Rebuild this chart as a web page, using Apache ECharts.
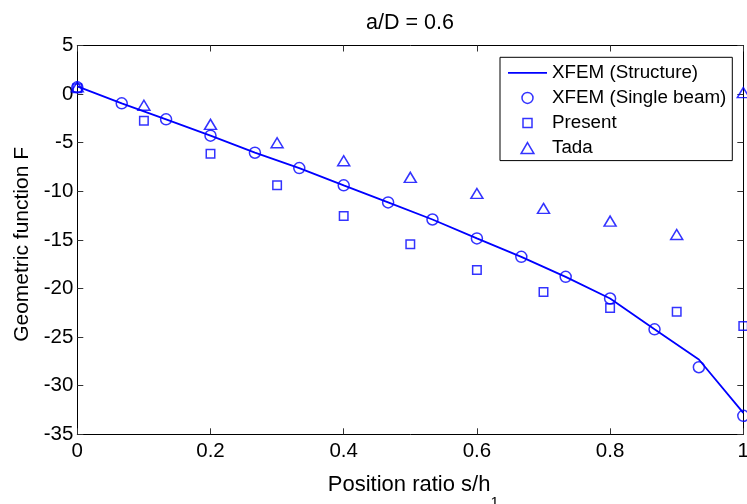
<!DOCTYPE html>
<html><head><meta charset="utf-8">
<script src="https://cdn.jsdelivr.net/npm/echarts@6/dist/echarts.min.js"></script>
<style>html,body{margin:0;padding:0;background:#fff}#c{width:747px;height:504px}</style>
</head><body><div id="c"></div>
<script>
// Position ratio s/h1 for the XFEM computations
const xFine = [0, 0.0667, 0.1333, 0.2, 0.2667, 0.3333, 0.4, 0.4667, 0.5333, 0.6, 0.6667, 0.7333, 0.8, 0.8667, 0.9333, 1];
const structureF = [0.8, -0.95, -2.6, -4.28, -6.03, -7.61, -9.39, -11.14, -12.9, -14.85, -16.74, -18.8, -21.03, -24.2, -27.3, -32.8];
const singleBeamF = [0.7, -0.95, -2.6, -4.28, -6.03, -7.61, -9.39, -11.14, -12.9, -14.85, -16.74, -18.8, -21.03, -24.2, -28.1, -33.1];
// Position ratio for Present / Tada
const xCoarse = [0, 0.1, 0.2, 0.3, 0.4, 0.5, 0.6, 0.7, 0.8, 0.9, 1];
const presentF = [0.6, -2.74, -6.14, -9.39, -12.55, -15.44, -18.1, -20.35, -22.0, -22.4, -23.85];
const tadaF = [0.75, -1.15, -3.11, -5.0, -6.86, -8.57, -10.22, -11.76, -13.07, -14.44, 0.15];
const seriesNames = ['XFEM (Structure)', 'XFEM (Single beam)', 'Present', 'Tada'];
const titleText = 'a/D = 0.6';
const xName = 'Position ratio s/h{sub|1}';
const yName = 'Geometric function F';

const FONT = '"Liberation Sans", Arial, sans-serif';
const BLUE = '#0000ff';
const pairs = (xs, ys) => xs.map((x, i) => [x, ys[i]]);

const chart = echarts.init(document.getElementById('c'), null, {renderer: 'canvas'});
const axisCommon = {
  axisLine: {onZero: false, lineStyle: {color: '#000', width: 1}},
  axisTick: {inside: true, length: 6, lineStyle: {color: '#333', width: 1}},
  splitLine: {show: false}
};
chart.setOption({
  animation: false,
  backgroundColor: '#fff',
  title: {
    text: titleText, left: 366, top: 12, padding: 0,
    textStyle: {fontFamily: FONT, fontSize: 21.5, fontWeight: 'normal', color: '#000'}
  },
  grid: {left: 77.3, right: 3.7, top: 45.5, bottom: 69.7, outerBoundsMode: 'none', containLabel: false},
  legend: {
    orient: 'vertical', left: 500, top: 57.3, padding: [6, 6, 3, 8],
    itemWidth: 39, itemHeight: 11, itemGap: 6.1,
    symbolKeepAspect: true,
    borderColor: '#000', borderWidth: 1, backgroundColor: '#fff',
    selectedMode: false, z: 10,
    itemStyle: {borderWidth: 1.5},
    textStyle: {fontFamily: FONT, fontSize: 18.8, color: '#000'},
    data: [
      {name: seriesNames[0], icon: 'path://M0,0L39,0L39,1.8L0,1.8Z', symbolKeepAspect: true,
       itemStyle: {color: BLUE, borderWidth: 0}},
      {name: seriesNames[1], symbolKeepAspect: true},
      {name: seriesNames[2], icon: 'path://M-1,-1M0,0L9,0L9,9L0,9ZM10,10', symbolKeepAspect: true},
      {name: seriesNames[3], icon: 'path://M7,0L14,12L0,12Z', symbolKeepAspect: true}
    ]
  },
  xAxis: [
    Object.assign({
      type: 'value', min: 0, max: 1, interval: 0.2, position: 'bottom',
      name: xName, nameLocation: 'middle', nameGap: 25.5,
      nameTextStyle: {fontFamily: FONT, fontSize: 22, color: '#000', padding: [0, 0, 0, 6],
        rich: {sub: {fontFamily: FONT, fontSize: 15, color: '#000', padding: [36, 0, 0, 0]}}},
      axisLabel: {fontFamily: FONT, fontSize: 20.5, color: '#000', margin: 7}
    }, axisCommon),
    Object.assign({
      type: 'value', min: 0, max: 1, interval: 0.2, position: 'top',
      axisLabel: {show: false}
    }, axisCommon)
  ],
  yAxis: [
    Object.assign({
      type: 'value', min: -35, max: 5, interval: 5, position: 'left',
      name: yName, nameLocation: 'middle', nameGap: 40,
      nameTextStyle: {fontFamily: FONT, fontSize: 21, color: '#000', padding: [0, 9, 0, 0]},
      axisLabel: {fontFamily: FONT, fontSize: 20.5, color: '#000', margin: 4}
    }, axisCommon),
    Object.assign({
      type: 'value', min: -35, max: 5, interval: 5, position: 'right',
      axisLabel: {show: false}
    }, axisCommon)
  ],
  series: [
    {
      name: seriesNames[0], type: 'line', data: pairs(xFine, structureF),
      symbol: 'none', showSymbol: false,
      lineStyle: {color: BLUE, width: 1.8}, itemStyle: {color: BLUE}
    },
    {
      name: seriesNames[1], type: 'scatter', data: pairs(xFine, singleBeamF),
      symbol: 'circle', symbolSize: 11,
      itemStyle: {color: 'none', borderColor: BLUE, borderWidth: 1.5}
    },
    {
      name: seriesNames[2], type: 'scatter', data: pairs(xCoarse, presentF),
      symbol: 'rect', symbolSize: 8.5,
      itemStyle: {color: 'none', borderColor: BLUE, borderWidth: 1.5}
    },
    {
      name: seriesNames[3], type: 'scatter', data: pairs(xCoarse, tadaF),
      symbol: 'triangle', symbolSize: [12, 10],
      itemStyle: {color: 'none', borderColor: BLUE, borderWidth: 1.5}
    }
  ]
});
</script></body></html>
